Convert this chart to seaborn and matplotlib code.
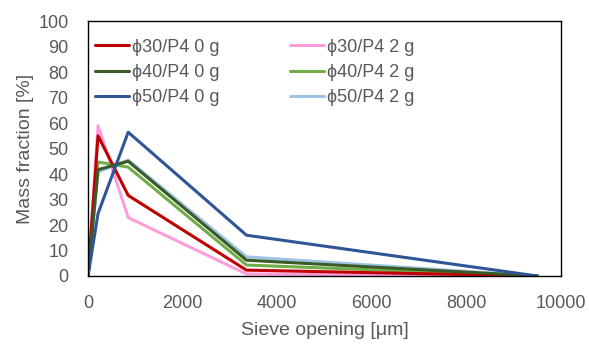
import pandas as pd
import matplotlib.pyplot as plt
import seaborn as sns

# sieve openings [um] and mass fractions [%]
sieve = [0, 212, 850, 3350, 9500]
p30_0g = [0, 55, 31.6, 2.3, 0]
p40_0g = [0, 41.7, 45, 6.2, 0]
p50_0g = [0, 24.5, 56.4, 16, 0]
p30_2g = [0, 59, 22.9, 0.8, 0]
p40_2g = [0, 44.7, 42.7, 4.3, 0]
p50_2g = [0, 40.8, 45.5, 7.5, 0]

labels = ["ϕ30/P4 0 g", "ϕ40/P4 0 g", "ϕ50/P4 0 g", "ϕ30/P4 2 g", "ϕ40/P4 2 g", "ϕ50/P4 2 g"]
series = [p30_0g, p40_0g, p50_0g, p30_2g, p40_2g, p50_2g]
colors = ["#C00000", "#3A5A26", "#2F5597", "#FF9DDC", "#70AD47", "#9DC3E6"]

rows = []
for lab, vals in zip(labels, series):
    for x, y in zip(sieve, vals):
        rows.append({"opening": x, "fraction": y, "sample": lab})
df = pd.DataFrame(rows)

sns.set_style("white")
plt.rcParams["font.family"] = ["Liberation Sans", "DejaVu Sans"]
grey = "#595959"

fig = plt.figure(figsize=(5.89, 3.45), dpi=100)
ax = fig.add_axes([0.1494, 0.2, 0.8031, 0.739])

# draw the 2 g series first so the 0 g lines sit on top
draw_order = [3, 4, 5, 0, 1, 2]
for i in draw_order:
    sub = df[df["sample"] == labels[i]]
    sns.lineplot(data=sub, x="opening", y="fraction", color=colors[i],
                 linewidth=2.2, label=labels[i], ax=ax, sort=False)

ax.set_xlim(0, 10000)
ax.set_ylim(0, 100)
ax.set_xticks(range(0, 10001, 2000))
ax.set_yticks(range(0, 101, 10))
ax.tick_params(colors=grey, labelsize=13, length=0)
ax.tick_params(axis="x", pad=14)
ax.tick_params(axis="y", pad=14)
ax.set_xlabel("Sieve opening [μm]", color=grey, fontsize=14, labelpad=7)
ax.set_ylabel("Mass fraction [%]", color=grey, fontsize=14, labelpad=3)
for s in ax.spines.values():
    s.set_color("black")
    s.set_linewidth(1.0)

handles, labs = ax.get_legend_handles_labels()
lookup = dict(zip(labs, handles))
ax.legend([lookup[l] for l in labels], labels, ncol=2, loc="upper left",
          bbox_to_anchor=(-0.012, 0.98), frameon=False, fontsize=13,
          labelcolor=grey, handlelength=1.9, handletextpad=0.15,
          columnspacing=3.9, labelspacing=0.45, borderaxespad=0.3)

plt.savefig("out.png", dpi=100)
